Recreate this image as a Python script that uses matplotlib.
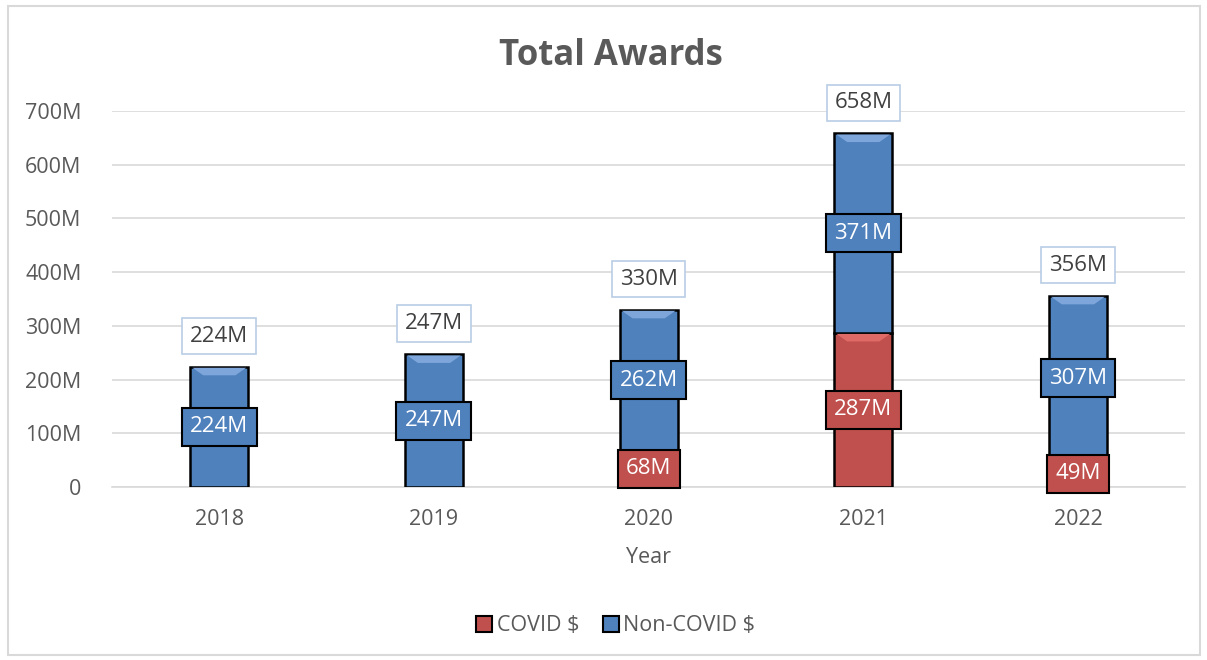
import matplotlib
matplotlib.use("Agg")
from matplotlib import pyplot as plt
from matplotlib.patches import Patch, Rectangle
import numpy as np

# chart data (millions)
years = ['2018', '2019', '2020', '2021', '2022']
covid = [0, 0, 68, 287, 49]
non_covid = [224, 247, 262, 371, 307]
totals = [224, 247, 330, 658, 356]
yticks = [0, 100, 200, 300, 400, 500, 600, 700]
ytick_labels = ['0', '100M', '200M', '300M', '400M', '500M', '600M', '700M']

plt.rcParams['font.family'] = ['Open Sans', 'DejaVu Sans']

red = '#C0504D'
blue = '#4F81BD'
txt = '#595959'

fig = plt.figure(figsize=(12.07, 6.6), dpi=100)
ax = fig.add_axes([0.0928, 0.262, 0.8892, 0.570])

x = np.arange(len(years))
w = 0.27
ax.bar(x, covid, w, color=red, edgecolor='black', linewidth=1.8, zorder=3)
ax.bar(x, non_covid, w, bottom=covid, color=blue, edgecolor='black', linewidth=1.8, zorder=3)

# bevel highlight on top of each stack
for i in range(len(years)):
    top = covid[i] + non_covid[i]
    ax.fill([x[i] - w/2 + 0.01, x[i] + w/2 - 0.01, x[i] + w/2 - 0.06, x[i] - w/2 + 0.06],
            [top - 2, top - 2, top - 16, top - 16], color='#7EA6DA', lw=0, zorder=4)
    if covid[i] > 0:
        ctop = covid[i]
        ax.fill([x[i] - w/2 + 0.01, x[i] + w/2 - 0.01, x[i] + w/2 - 0.06, x[i] - w/2 + 0.06],
                [ctop - 2, ctop - 2, ctop - 16, ctop - 16], color='#E06A66', lw=0, zorder=4)

for i in range(len(years)):
    if covid[i] > 0:
        ax.text(x[i], covid[i] / 2, f'{covid[i]}M', ha='center', va='center', color='white',
                fontsize=16, zorder=6,
                bbox=dict(boxstyle='square,pad=0.38', fc=red, ec='black', lw=1.5))
    ax.text(x[i], covid[i] + non_covid[i] / 2, f'{non_covid[i]}M', ha='center', va='center',
            color='white', fontsize=16, zorder=6,
            bbox=dict(boxstyle='square,pad=0.38', fc=blue, ec='black', lw=1.5))
    ax.text(x[i], totals[i] + 57, f'{totals[i]}M', ha='center', va='center', color='#404040',
            fontsize=16, zorder=6, clip_on=False,
            bbox=dict(boxstyle='square,pad=0.35', fc='white', ec='#B9CDE5', lw=1.2))

ax.set_xlim(-0.5, len(years) - 0.5)
ax.set_ylim(0, 700)
ax.set_yticks(yticks)
ax.set_yticklabels(ytick_labels)
ax.set_xticks(x)
ax.set_xticklabels(years)
ax.tick_params(axis='both', length=0, labelsize=15.5, colors=txt)
ax.tick_params(axis='y', pad=22)
ax.tick_params(axis='x', pad=16)
ax.grid(axis='y', color='#D9D9D9', lw=1.2, zorder=0)
for s in ['top', 'right', 'left']:
    ax.spines[s].set_visible(False)
ax.spines['bottom'].set_color('#D9D9D9')
ax.spines['bottom'].set_linewidth(1.2)
ax.set_xlabel('Year', fontsize=15.5, color=txt, labelpad=12)

fig.text(0.506, 0.915, 'Total Awards', ha='center', va='center', fontsize=25,
         fontweight='bold', color=txt)

handles = [Patch(fc=red, ec='black', lw=1.5, label='COVID $'),
           Patch(fc=blue, ec='black', lw=1.5, label='Non-COVID $')]
fig.legend(handles=handles, loc='center', bbox_to_anchor=(0.51, 0.052), ncol=2, frameon=False,
           fontsize=15.5, labelcolor=txt, handlelength=0.75, handleheight=0.75,
           handletextpad=0.2, columnspacing=1.1)

fig.add_artist(Rectangle((0.007, 0.008), 0.987, 0.983, transform=fig.transFigure,
                         fill=False, ec='#D9D9D9', lw=1.5))

fig.savefig('out.png', dpi=100)
